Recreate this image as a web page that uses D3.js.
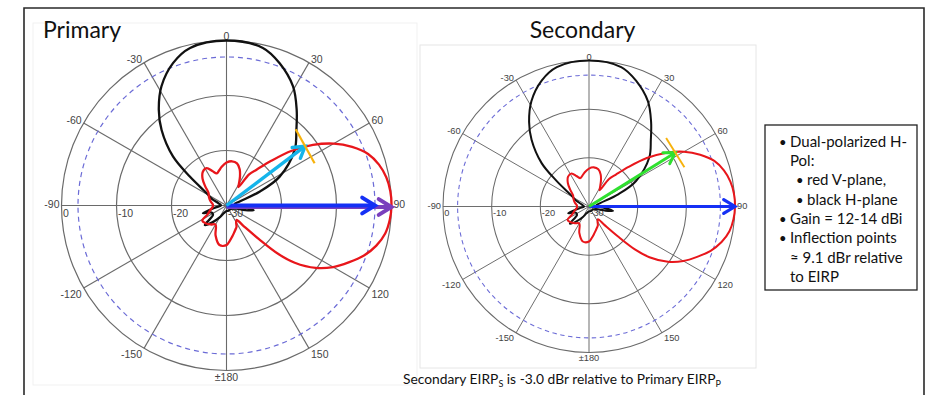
<!DOCTYPE html>
<html>
<head>
<meta charset="utf-8">
<script src="https://cdn.jsdelivr.net/npm/d3@7"></script>
<style>
  html, body { margin: 0; padding: 0; background: #fff; }
  svg { display: block; }
</style>
</head>
<body>
<svg id="chart" width="938" height="395"></svg>
<script>
// ---- Antenna pattern data: angle (deg, clockwise from 0) and normalised gain (dB) ----
const vPlaneAngles = [-180, -170, -160, -150, -140, -130, -122, -115, -105, -95, -85, -75, -65, -55, -48, -42, -35, -28, -22, -17, -12, -7, 0, 7, 14, 20, 25, 30, 33, 36, 40, 45, 50, 55, 60, 65, 70, 75, 80, 85, 90, 95, 100, 105, 110, 115, 120, 125, 130, 133, 136, 140, 145, 150, 155, 160, 165, 170, 175];
const vPlaneGain   = [-22.8, -22.7, -24.2, -26, -25.5, -25, -24.8, -26.2, -27, -27.5, -27.5, -27, -26.5, -26, -24.8, -23.5, -22.5, -22.3, -23.3, -23.9, -23.5, -22.9, -22.2, -21.9, -22.1, -23, -24.2, -25.5, -26, -23, -21.5, -18.5, -14.5, -10.8, -7.5, -4.8, -2.6, -1.3, -0.5, -0.1, 0, -0.2, -0.7, -1.8, -3.4, -5.5, -7.6, -10.2, -13.8, -17, -21.5, -25, -26.8, -26.5, -25.7, -25.3, -24.8, -24.2, -23.5];

const hPlaneAngles = [-180, -160, -150, -140, -132, -125, -115, -108, -100, -90, -75, -65, -58, -51.7, -47.5, -40.7, -35.3, -28.6, -20.6, -13, 0, 13, 20.5, 29.2, 36.2, 42.8, 50.8, 61.5, 67.2, 73, 80, 90, 97, 100, 104, 110, 130, 160];
const hPlaneGain   = [-29, -28.5, -27.5, -26, -24.7, -27, -27, -25.5, -28, -29, -28.5, -27, -25.7, -21.5, -16.8, -11.9, -8.7, -5.3, -2.35, -0.6, 0, -0.6, -2.4, -5.2, -8.4, -11.3, -14, -19, -23.4, -27.5, -28.5, -28, -26, -25, -26.5, -28.5, -29, -29];

// ---- Axes ----
const spokeAngles = [0, 30, 60, 90, 120, 150, 180, -150, -120, -90, -60, -30];
const spokeLabels = ["0", "30", "60", "90", "120", "150", "\u00b1180", "-150", "-120", "-90", "-60", "-30"];
const ringLevels = [0, -10, -20, -30];
const ringLabels = ["0", "-10", "-20", "-30"];
const dashedLevel = -3;

// ---- Panels ----
const panelTitles = ["Primary", "Secondary"];
const eirpLevels = [-3, 0];          // EIRP marker per panel (dB on that panel's scale)
const peakLevels = [0, 0];           // pattern peak per panel
const inflectionDrop = 9.1;          // dBr below EIRP
const inflectionAngles = [53, 58];   // where the V-plane edge reaches that level

const legendLines = [
  { text: "Dual-polarized H-", level: 0, bullet: true },
  { text: "Pol:", level: 0, bullet: false },
  { text: "red V-plane,", level: 1, bullet: true },
  { text: "black H-plane", level: 1, bullet: true },
  { text: "Gain = 12-14 dBi", level: 0, bullet: true },
  { text: "Inflection points", level: 0, bullet: true },
  { text: "\u2248 9.1 dBr relative", level: 0, bullet: false },
  { text: "to EIRP", level: 0, bullet: false }
];

const svg = d3.select("#chart");
svg.append("rect").attr("width", 938).attr("height", 395).attr("fill", "#fff");

// slide frame
svg.append("path")
  .attr("d", "M24,395 L24,8 L924,8 L924,395")
  .attr("fill", "none").attr("stroke", "#2a2a2a").attr("stroke-width", 1.6);

// faint image borders behind the two plots
svg.append("rect").attr("x", 33).attr("y", 23).attr("width", 384).attr("height", 362)
  .attr("fill", "none").attr("stroke", "#f1f1f1").attr("stroke-width", 1);
svg.append("rect").attr("x", 420).attr("y", 45).attr("width", 336).attr("height", 323)
  .attr("fill", "none").attr("stroke", "#e6e6e6").attr("stroke-width", 1);

const panels = [
  { cx: 226.5, cy: 205.5, R: 165, titleX: 43, titleAnchor: "start", titleY: 37.5, tickTilt: 8 },
  { cx: 589, cy: 206.5, R: 146, titleX: 582.5, titleAnchor: "middle", titleY: 37.5, tickTilt: 0 }
];

const rad = d => d * Math.PI / 180;

function drawPanel(p, i) {
  const k = p.R / 165;
  const g = svg.append("g").attr("transform", `translate(${p.cx},${p.cy})`);
  const r = d3.scaleLinear().domain([-30, 0]).range([0, p.R]).clamp(true);
  const pt = (a, db) => [r(db) * Math.sin(rad(a)), -r(db) * Math.cos(rad(a))];

  // title
  svg.append("text").attr("x", p.titleX).attr("y", p.titleY)
    .attr("text-anchor", p.titleAnchor)
    .attr("font-family", "Lato, 'Open Sans', sans-serif").attr("font-size", 23)
    .attr("fill", "#111").text(panelTitles[i]);

  // rings
  g.selectAll(".ring").data(ringLevels.filter(v => v > -30)).join("circle")
    .attr("r", d => r(d)).attr("fill", "none")
    .attr("stroke", "#6a6a6a").attr("stroke-width", 1.2 * k);

  // spokes
  g.selectAll(".spoke").data(spokeAngles).join("line")
    .attr("x1", 0).attr("y1", 0)
    .attr("x2", d => pt(d, 0)[0]).attr("y2", d => pt(d, 0)[1])
    .attr("stroke", "#6a6a6a").attr("stroke-width", 1.1 * k);

  // -3 dB reference circle
  g.append("circle").attr("r", r(dashedLevel)).attr("fill", "none")
    .attr("stroke", "#6b6bd6").attr("stroke-width", 1.2 * k)
    .attr("stroke-dasharray", `${5 * k},${4 * k}`);

  // spoke labels
  const fs = 10.5 * k;
  spokeAngles.forEach((a, j) => {
    const [x, y] = pt(a, 0);
    let anchor = "middle", base = "middle", dx = 0, dy = 0;
    if (a > 0 && a < 180) { anchor = "start"; dx = 2; }
    else if (a < 0 && a > -180) { anchor = "end"; dx = -2; }
    const aa = Math.abs(a);
    if (aa === 0) { base = "auto"; dy = -1; }
    else if (aa === 30) { base = "auto"; dy = 0.5; }
    else if (aa === 60) { base = "middle"; dy = -2; }
    else if (aa === 90) { base = "middle"; dy = 0; }
    else { base = "hanging"; dy = 2; }
    g.append("text").attr("x", x + dx).attr("y", y + dy)
      .attr("text-anchor", anchor).attr("dominant-baseline", base)
      .attr("font-family", "'Liberation Sans', Arial, sans-serif").attr("font-size", fs)
      .attr("fill", "#444").text(spokeLabels[j]);
  });

  // ring labels along the -90 axis
  ringLevels.forEach((v, j) => {
    g.append("text").attr("x", -r(v) + 1.5 * k).attr("y", 3 * k)
      .attr("dominant-baseline", "hanging")
      .attr("font-family", "'Liberation Sans', Arial, sans-serif").attr("font-size", fs)
      .attr("fill", "#444").text(ringLabels[j]);
  });

  // patterns
  const line = d3.lineRadial()
    .angle(d => rad(d[0]))
    .radius(d => r(d[1] + peakLevels[i]))
    .curve(d3.curveCatmullRomClosed.alpha(0.5));

  g.append("path").datum(hPlaneAngles.map((a, j) => [a, hPlaneGain[j]]))
    .attr("d", line).attr("fill", "none")
    .attr("stroke", "#111").attr("stroke-width", 2.3 * k).attr("stroke-linejoin", "round");
  g.append("path").datum(vPlaneAngles.map((a, j) => [a, vPlaneGain[j]]))
    .attr("d", line).attr("fill", "none")
    .attr("stroke", "#e8161b").attr("stroke-width", 2.3 * k).attr("stroke-linejoin", "round");

  // arrow helper: shaft + open chevron head
  function arrow(a, db, color, w, head, offY = 0) {
    const [x, y] = pt(a, db);
    const ang = Math.atan2(y, x);
    const hx1 = x - head * Math.cos(ang - 0.55), hy1 = y - head * Math.sin(ang - 0.55);
    const hx2 = x - head * Math.cos(ang + 0.55), hy2 = y - head * Math.sin(ang + 0.55);
    const ag = g.append("g").attr("transform", `translate(0,${offY})`);
    ag.append("line").attr("x1", 0).attr("y1", 0)
      .attr("x2", x - 2 * Math.cos(ang)).attr("y2", y - 2 * Math.sin(ang))
      .attr("stroke", color).attr("stroke-width", w);
    ag.append("path").attr("d", `M${hx1},${hy1} L${x},${y} L${hx2},${hy2}`)
      .attr("fill", "none").attr("stroke", color).attr("stroke-width", w)
      .attr("stroke-linejoin", "miter").attr("stroke-linecap", "round");
  }

  const eirp = eirpLevels[i];
  const inflLevel = eirp - inflectionDrop;
  const inflAngle = inflectionAngles[i];

  if (i === 0) {
    // peak (purple) under EIRP (blue)
    arrow(90, peakLevels[i], "#7a3fbd", 4 * k, 15 * k, 1.5);
    arrow(90, eirp, "#1530f5", 4 * k, 15 * k);
    arrow(inflAngle, inflLevel, "#14b4ea", 3.4 * k, 13 * k);
  } else {
    arrow(90, eirp, "#1530f5", 3.6 * k, 15 * k);
    arrow(inflAngle, inflLevel, "#2fe02f", 3.4 * k, 14 * k);
  }

  // inflection tick across the radial
  const [tx, ty] = pt(inflAngle, inflLevel);
  const tang = rad(inflAngle + p.tickTilt);
  const half = 19.5 * k;
  const ux = Math.cos(tang), uy = Math.sin(tang);
  g.append("line")
    .attr("x1", tx - ux * half).attr("y1", ty - uy * half)
    .attr("x2", tx + ux * half).attr("y2", ty + uy * half)
    .attr("stroke", "#f7b20c").attr("stroke-width", 2.2 * k);
}

panels.forEach(drawPanel);

// legend box
const lg = svg.append("g");
lg.append("rect").attr("x", 765).attr("y", 125).attr("width", 152).attr("height", 165)
  .attr("fill", "#fff").attr("stroke", "#222").attr("stroke-width", 1.3);
legendLines.forEach((l, j) => {
  const y = 146.7 + j * 19.3;
  const tx = l.level === 0 ? 790 : 807;
  if (l.bullet) {
    lg.append("text").attr("x", tx - 11).attr("y", y)
      .attr("font-family", "Lato, sans-serif").attr("font-size", 13)
      .attr("fill", "#111").text("\u2022");
  }
  lg.append("text").attr("x", tx).attr("y", y)
    .attr("font-family", "Lato, sans-serif").attr("font-size", 15)
    .attr("fill", "#111").text(l.text);
});

// footnote
const fn = svg.append("text").attr("x", 403).attr("y", 384)
  .attr("font-family", "Lato, sans-serif").attr("font-size", 13.8).attr("fill", "#111");
fn.append("tspan").text("Secondary EIRP");
fn.append("tspan").attr("font-size", 9).attr("dy", 3).text("S");
fn.append("tspan").attr("dy", -3).text(" is -3.0 dBr relative to Primary EIRP");
fn.append("tspan").attr("font-size", 9).attr("dy", 3).text("P");
</script>
</body>
</html>
